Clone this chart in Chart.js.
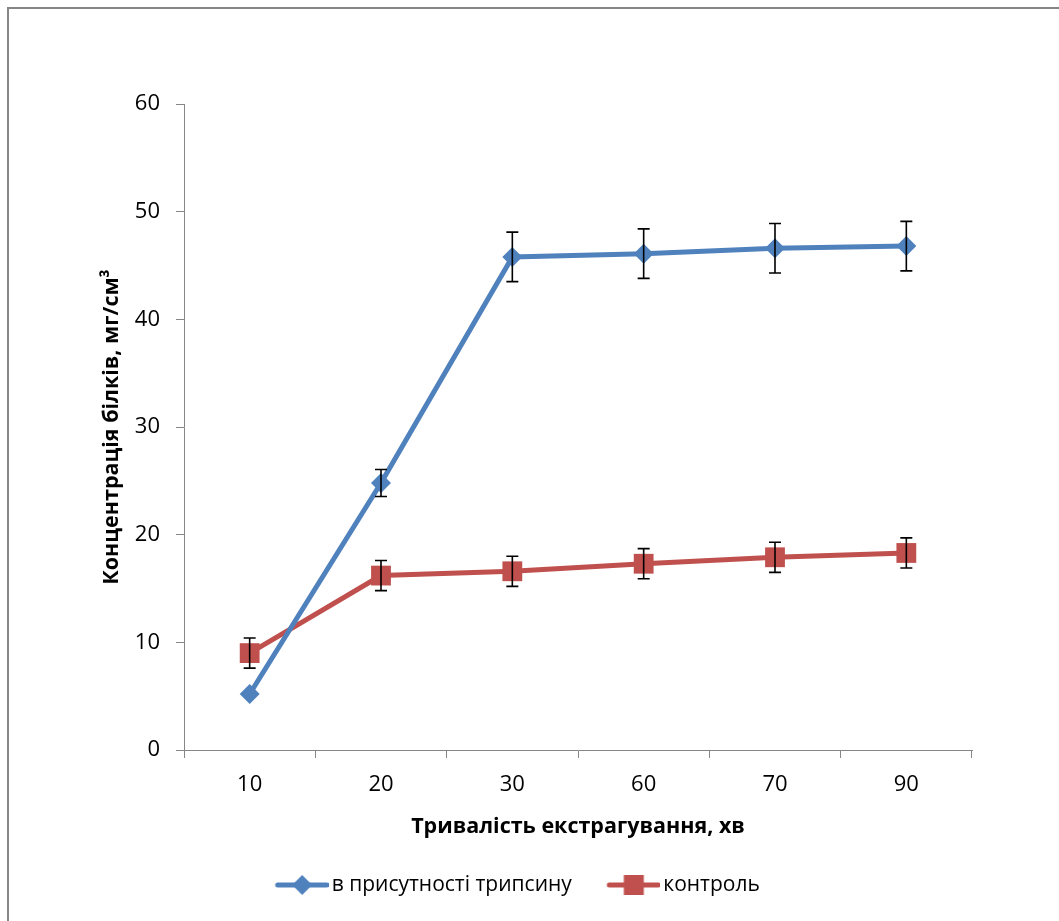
<!DOCTYPE html>
<html>
<head>
<meta charset="utf-8">
<script src="https://cdn.jsdelivr.net/npm/chart.js@4.4.1/dist/chart.umd.min.js"></script>
<style>
  html, body { margin: 0; padding: 0; background: #fff; }
  #wrap { position: relative; width: 1059px; height: 921px; overflow: hidden; }
  #frame { position: absolute; left: 7px; top: 7px; width: 1100px; height: 1000px;
           border-left: 2px solid #868686; border-top: 2px solid #868686; }
  #graph { position: absolute; left: 0; top: 0; }
</style>
</head>
<body>
<div id="wrap">
  <div id="frame"></div>
  <canvas id="graph" width="1059" height="921"></canvas>
</div>
<script>
// тривалість екстрагування, хв
const labels = ['10', '20', '30', '60', '70', '90'];

const trypsin = [5.2, 24.8, 45.8, 46.1, 46.6, 46.8];
const trypsinErr = [0, 1.25, 2.3, 2.3, 2.3, 2.3];

const control = [9.0, 16.2, 16.6, 17.3, 17.9, 18.3];
const controlErr = [1.4, 1.4, 1.4, 1.4, 1.4, 1.4];

const yTicks = [0, 10, 20, 30, 40, 50, 60];

const BLUE = '#4F81BD';
const RED = '#C0504D';
const AXIS = '#868686';
const FONT = '"Open Sans", "Liberation Sans", sans-serif';

// legend icon: line with a marker in the middle
function legendIcon(color, shape) {
    const c = document.createElement('canvas');
    c.width = 86;
    c.height = 24;
    const ctx = c.getContext('2d');
    ctx.strokeStyle = color;
    ctx.lineWidth = 5;
    ctx.lineCap = 'round';
    ctx.beginPath();
    ctx.moveTo(35, 12);
    ctx.lineTo(84, 12);
    ctx.stroke();
    ctx.fillStyle = color;
    const cx = 59.5;
    if (shape === 'diamond') {
        ctx.beginPath();
        ctx.moveTo(cx - 10, 12);
        ctx.lineTo(cx, 2);
        ctx.lineTo(cx + 10, 12);
        ctx.lineTo(cx, 22);
        ctx.closePath();
        ctx.fill();
    } else {
        ctx.fillRect(cx - 10, 2, 20, 20);
    }
    return c;
}

const errorBars = {
    id: 'errorBars',
    afterDatasetsDraw(chart) {
        const ctx = chart.ctx;
        const yScale = chart.scales.y;
        const errs = [trypsinErr, controlErr];
        ctx.save();
        ctx.strokeStyle = '#000';
        ctx.lineWidth = 1.6;
        chart.data.datasets.forEach((ds, di) => {
            const meta = chart.getDatasetMeta(di);
            meta.data.forEach((pt, i) => {
                const e = errs[di][i];
                if (!e) return;
                const v = ds.data[i];
                const x = pt.x;
                const yTop = yScale.getPixelForValue(v + e);
                const yBot = yScale.getPixelForValue(v - e);
                ctx.beginPath();
                ctx.moveTo(x, yTop);
                ctx.lineTo(x, yBot);
                ctx.moveTo(x - 6, yTop);
                ctx.lineTo(x + 6, yTop);
                ctx.moveTo(x - 6, yBot);
                ctx.lineTo(x + 6, yBot);
                ctx.stroke();
            });
        });
        ctx.restore();
    }
};

const icons = [legendIcon(BLUE, 'diamond'), legendIcon(RED, 'square')];

new Chart(document.getElementById('graph'), {
    type: 'line',
    data: {
        labels: labels,
        datasets: [
            {
                label: 'в присутності трипсину',
                data: trypsin,
                borderColor: BLUE,
                backgroundColor: BLUE,
                borderWidth: 5,
                pointStyle: 'rectRot',
                pointRadius: 10,
                pointBorderWidth: 0,
                tension: 0
            },
            {
                label: 'контроль',
                data: control,
                borderColor: RED,
                backgroundColor: RED,
                borderWidth: 5,
                pointStyle: 'rect',
                pointRadius: 14,
                pointBorderWidth: 0,
                tension: 0
            }
        ]
    },
    options: {
        responsive: false,
        animation: false,
        devicePixelRatio: 1,
        layout: { padding: { left: 0, top: 104, right: 49, bottom: 15.5 } },
        plugins: {
            tooltip: { enabled: false },
            legend: {
                position: 'bottom',
                labels: {
                    usePointStyle: true,
                    pointStyleWidth: 71,
                    padding: 10,
                    color: '#000',
                    font: { family: FONT, size: 21 },
                    generateLabels: (chart) => chart.data.datasets.map((ds, i) => ({
                        text: ds.label,
                        pointStyle: icons[i],
                        fillStyle: ds.borderColor,
                        strokeStyle: ds.borderColor,
                        lineWidth: 0,
                        hidden: false,
                        datasetIndex: i
                    }))
                }
            }
        },
        scales: {
            x: {
                offset: true,
                grid: { offset: true, drawOnChartArea: false, tickLength: 8, color: AXIS },
                border: { color: AXIS, width: 1 },
                ticks: { color: '#000', padding: 13.8, font: { family: FONT, size: 22 } },
                title: {
                    display: true,
                    text: 'Тривалість екстрагування, хв',
                    color: '#000',
                    font: { family: FONT, size: 21.5, weight: 'bold' },
                    padding: { top: 0, bottom: 24.6 }
                },
                afterFit: (s) => { s.height = 114.5; }
            },
            y: {
                min: 0,
                max: 60,
                afterBuildTicks: (s) => { s.ticks = yTicks.map(v => ({ value: v })); },
                grid: { drawOnChartArea: false, tickLength: 8, color: AXIS },
                border: { color: AXIS, width: 1 },
                ticks: { color: '#000', padding: 16, font: { family: FONT, size: 22 } },
                title: {
                    display: true,
                    text: 'Концентрація білків, мг/см³',
                    color: '#000',
                    font: { family: FONT, size: 21.5, weight: 'bold' },
                    padding: { top: 99.1, bottom: 0 }
                },
                afterFit: (s) => { s.width = 184; }
            },
            yPad: {
                position: 'right',
                display: true,
                grid: { display: false },
                border: { display: false },
                ticks: { display: false },
                afterFit: (s) => { s.width = 38; }
            }
        }
    },
    plugins: [errorBars]
});
</script>
</body>
</html>
